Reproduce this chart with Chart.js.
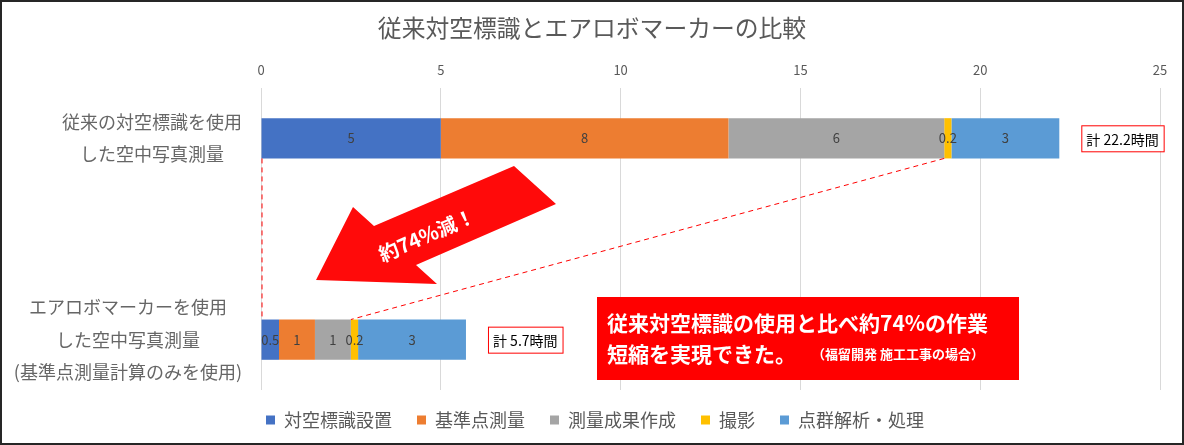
<!DOCTYPE html>
<html>
<head>
<meta charset="utf-8">
<script src="https://cdn.jsdelivr.net/npm/chart.js@4"></script>
<style>
  html, body { margin: 0; padding: 0; background: #fff; }
  #frame { width: 1184px; height: 445px; box-sizing: border-box; border: 2px solid #262626; background: #fff; }
  canvas { display: block; }
</style>
</head>
<body>
<div id="frame"><canvas id="chart" width="1180" height="441"></canvas></div>
<script>
const FONT = '"Noto Sans CJK JP", "Noto Sans", sans-serif';

// categories (middle one is an empty spacer row)
const categories = [
    ['従来の対空標識を使用', 'した空中写真測量'],
    '',
    ['エアロボマーカーを使用', 'した空中写真測量', '(基準点測量計算のみを使用)']
];
const seriesNames = ['対空標識設置', '基準点測量', '測量成果作成', '撮影', '点群解析・処理'];
const seriesColors = ['#4472C4', '#ED7D31', '#A5A5A5', '#FFC000', '#5B9BD5'];
const markerSetup = [5, null, 0.5];
const controlSurvey = [8, null, 1];
const resultsPrep = [6, null, 1];
const shooting = [0.2, null, 0.2];
const pointCloud = [3, null, 3];
const totals = [22.2, null, 5.7];
const xTicks = [0, 5, 10, 15, 20, 25];

const seriesValues = [markerSetup, controlSurvey, resultsPrep, shooting, pointCloud];

const overlay = {
    id: 'overlay',
    afterLayout(chart) {
        // centre title and legend on the whole canvas, not on the padded box
        chart.titleBlock.right += 22;
        chart.legend.left += 14;
        chart.legend.right += 14;
        chart.legend.top -= 4;
        chart.legend.bottom -= 4;
    },
    afterDatasetsDraw(chart) {
        const ctx = chart.ctx;
        const yScale = chart.scales.y;
        const xScale = chart.scales.x;
        ctx.save();

        // category labels, each block centred on its own width
        ctx.font = '18px ' + FONT;
        ctx.fillStyle = '#666666';
        ctx.textAlign = 'center';
        ctx.textBaseline = 'middle';
        categories.forEach((lab, i) => {
            if (!lab) return;
            const lines = Array.isArray(lab) ? lab : [lab];
            const w = Math.max(...lines.map(l => ctx.measureText(l).width));
            const cx = 240 - w / 2;
            const cy = yScale.getPixelForValue(i);
            const lh = 32.5;
            lines.forEach((l, k) => {
                ctx.fillText(l, cx, cy + (k - (lines.length - 1) / 2) * lh);
            });
        });

        // value labels inside bars
        ctx.font = '13px ' + FONT;
        ctx.fillStyle = '#404040';
        chart.data.datasets.forEach((ds, di) => {
            const meta = chart.getDatasetMeta(di);
            meta.data.forEach((el, i) => {
                const v = ds.data[i];
                if (v == null) return;
                ctx.fillText(String(v), (el.x + el.base) / 2, el.y);
            });
        });

        // total boxes
        ctx.font = '14px ' + FONT;
        totals.forEach((t, i) => {
            if (t == null) return;
            const txt = '計 ' + t + '時間';
            const w = ctx.measureText(txt).width;
            const left = xScale.getPixelForValue(t) + 22;
            const cy = yScale.getPixelForValue(i);
            ctx.fillStyle = '#fff';
            ctx.fillRect(left, cy - 13, w + 10, 26);
            ctx.strokeStyle = '#ff0000';
            ctx.lineWidth = 1;
            ctx.strokeRect(left + 0.5, cy - 13 + 0.5, w + 10, 26);
            ctx.fillStyle = '#000';
            ctx.textAlign = 'left';
            ctx.fillText(txt, left + 5, cy + 1);
        });

        // dashed connectors between the two bars
        const yel = chart.getDatasetMeta(3);
        const blue = chart.getDatasetMeta(0);
        const top0 = blue.data[0];
        const bot0 = blue.data[2];
        ctx.strokeStyle = '#ff0000';
        ctx.setLineDash([5, 4]);
        ctx.lineWidth = 1;
        ctx.beginPath();
        ctx.moveTo(top0.base + 0.5, top0.y + top0.height / 2);
        ctx.lineTo(bot0.base + 0.5, bot0.y - bot0.height / 2);
        ctx.moveTo(yel.data[0].base, yel.data[0].y + yel.data[0].height / 2);
        ctx.lineTo(yel.data[2].base, yel.data[2].y - yel.data[2].height / 2);
        ctx.stroke();
        ctx.setLineDash([]);

        // big arrow
        const pts = [[512, 164], [554, 202], [414, 263], [435, 282], [314, 278], [351, 205], [372, 224]];
        ctx.fillStyle = '#ff0a0a';
        ctx.beginPath();
        pts.forEach((p, k) => k ? ctx.lineTo(p[0], p[1]) : ctx.moveTo(p[0], p[1]));
        ctx.closePath();
        ctx.fill();
        ctx.save();
        ctx.translate(425, 233);
        ctx.rotate(-23.5 * Math.PI / 180);
        ctx.font = 'bold 20px ' + FONT;
        ctx.fillStyle = '#fff';
        ctx.textAlign = 'center';
        ctx.fillText('約74%減！', 0, 0);
        ctx.restore();

        // summary box
        ctx.fillStyle = '#ff0000';
        ctx.fillRect(595, 295, 422, 83);
        ctx.fillStyle = '#fff';
        ctx.textAlign = 'left';
        ctx.font = 'bold 21px ' + FONT;
        ctx.fillText('従来対空標識の使用と比べ約74%の作業', 605, 321);
        ctx.fillText('短縮を実現できた。', 605, 352);
        ctx.font = 'bold 13px ' + FONT;
        ctx.fillText('（福留開発 施工工事の場合）', 810, 352);

        ctx.restore();
    }
};

new Chart(document.getElementById('chart'), {
    type: 'bar',
    data: {
        labels: categories,
        datasets: seriesNames.map((name, i) => ({
            label: name,
            data: seriesValues[i],
            backgroundColor: seriesColors[i],
            borderWidth: 0,
            barPercentage: 0.4,
            categoryPercentage: 1
        }))
    },
    options: {
        indexAxis: 'y',
        responsive: false,
        animation: false,
        layout: { padding: { top: 0, right: 22, bottom: 0, left: 0 } },
        scales: {
            x: {
                position: 'top',
                stacked: true,
                min: 0,
                max: 25,
                afterBuildTicks: (scale) => { scale.ticks = xTicks.map(v => ({ value: v })); },
                afterFit: (scale) => { scale.height = 40; },
                ticks: { color: '#595959', font: { size: 13, family: FONT }, padding: 10 },
                grid: { color: '#d9d9d9', drawTicks: false },
                border: { display: false }
            },
            y: {
                stacked: true,
                afterFit: (scale) => { scale.width = 259; },
                ticks: { display: false },
                grid: { display: false },
                border: { display: false }
            }
        },
        plugins: {
            title: {
                display: true,
                text: '従来対空標識とエアロボマーカーの比較',
                color: '#595959',
                font: { size: 23.8, family: FONT, weight: 'normal' },
                padding: { top: 12, bottom: 5.4 }
            },
            legend: {
                position: 'bottom',
                labels: {
                    color: '#595959',
                    font: { size: 18, family: FONT },
                    boxWidth: 9,
                    boxHeight: 9,
                    padding: 25
                }
            },
            tooltip: { enabled: false }
        }
    },
    plugins: [overlay]
});
</script>
</body>
</html>
